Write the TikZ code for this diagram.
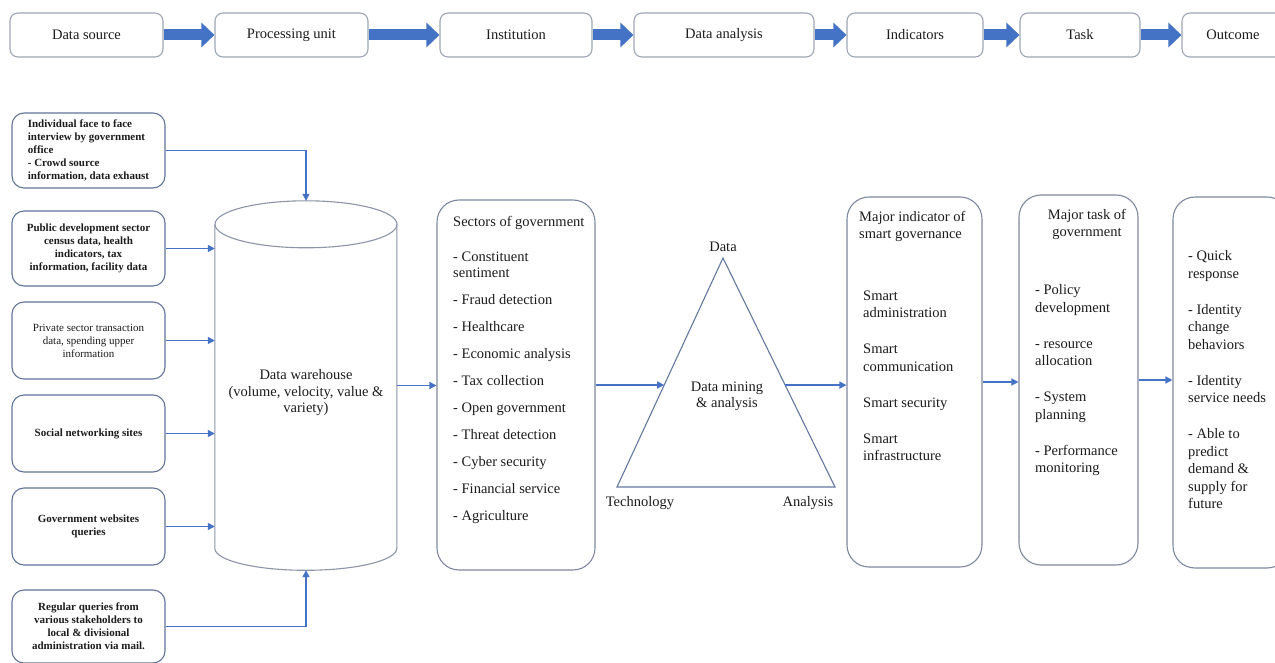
\documentclass[tikz,border=0pt]{standalone}
\usepackage{fontspec}
\setmainfont{Liberation Serif}
\usetikzlibrary{arrows.meta,positioning,calc}
\definecolor{FlowBlue}{RGB}{68,114,196}
\definecolor{StageEdge}{RGB}{158,166,182}
\definecolor{SourceEdge}{RGB}{98,116,152}
\definecolor{ColEdge}{RGB}{126,136,160}
\definecolor{CylEdge}{RGB}{140,148,168}
\definecolor{TriEdge}{RGB}{100,120,160}
\definecolor{Ink}{RGB}{28,28,28}
\tikzset{
  stagebox/.style={draw=StageEdge,rounded corners=8pt,line width=1.1pt,fill=white,
    minimum height=44pt,text=Ink,font=\fontsize{14.5}{17}\selectfont},
  srcbox/.style={draw=SourceEdge,rounded corners=12pt,line width=1.1pt,
    minimum width=153pt,align=center,text=Ink,font=\bfseries\fontsize{11}{13}\selectfont},
  colbox/.style={draw=ColEdge,rounded corners=22pt,line width=1.1pt},
  coltext/.style={anchor=north west,inner sep=0pt,align=left,text=Ink,
    font=\fontsize{14.5}{17.5}\selectfont},
  trilabel/.style={inner sep=0pt,text=Ink,font=\fontsize{14.5}{16.5}\selectfont},
  cylline/.style={draw=CylEdge,line width=1.1pt},
  link/.style={-{Triangle[length=7pt,width=7pt]},FlowBlue,line width=1.4pt},
  bigarrow/.style={-{Triangle[length=13pt,width=24pt]},FlowBlue,line width=11pt}
}
\begin{document}
\begin{tikzpicture}[x=1pt,y=-1pt]
  \useasboundingbox (0,0) rectangle (1275,663);
  \fill[white] (0,0) rectangle (1275,663);

  \node[stagebox,minimum width=153pt] (sSource) at (86.5,35) {Data source};
  \node[stagebox,minimum width=153pt] (sProc) at (291.5,35) {Processing unit};
  \node[stagebox,minimum width=152pt] (sInst) at (516,35) {Institution};
  \node[stagebox,minimum width=180pt] (sAnalysis) at (724,35) {Data analysis};
  \node[stagebox,minimum width=136pt] (sIndic) at (915,35) {Indicators};
  \node[stagebox,minimum width=120pt] (sTask) at (1080,35) {Task};
  \node[stagebox,minimum width=102pt] (sOutcome) at (1233,35) {Outcome};
  \foreach \a/\b in {sSource/sProc,sProc/sInst,sInst/sAnalysis,sAnalysis/sIndic,sIndic/sTask,sTask/sOutcome}
    \draw[bigarrow] (\a.east) -- (\b.west);

  \node[srcbox,minimum height=75pt,align=left] (src1) at (88.5,150.5)
    {Individual face to face\\interview by government\\office\\- Crowd source\\information, data exhaust};
  \node[srcbox,minimum height=75pt] (src2) at (88.5,248.5)
    {Public development sector\\census data, health\\indicators, tax\\information, facility data};
  \node[srcbox,minimum height=77pt,font=\fontsize{11}{13}\selectfont] (src3) at (88.5,340.5)
    {Private sector transaction\\data, spending upper\\information};
  \node[srcbox,minimum height=77pt] (src4) at (88.5,433.5) {Social networking sites};
  \node[srcbox,minimum height=77pt] (src5) at (88.5,526.5) {Government websites\\queries};
  \node[srcbox,minimum height=73pt] (src6) at (88.5,626.5)
    {Regular queries from\\various stakeholders to\\local \& divisional\\administration via mail.};

  \node[minimum width=182pt,minimum height=369pt,inner sep=0pt,
    label={[trilabel,align=center,yshift=-7.5pt]center:{Data warehouse\\(volume, velocity, value \&\\variety)}}]
    (dw) at (306,385.5) {};
  \draw[cylline] (dw.north west) ++(0,23.5) -- ++(0,324)
    arc[start angle=180,end angle=0,x radius=91,y radius=22] -- ++(0,-324);
  \draw[cylline] (dw.north) ++(0,23.5) ellipse[x radius=91,y radius=23.5];

  \draw[link] (src1.east) -| (dw.north);
  \foreach \i in {2,...,5}
    \draw[link] (src\i.east) -- (src\i.east -| dw.west);
  \draw[link] (src6.east) -| (dw.south);

  \node[colbox,minimum width=158pt,minimum height=370pt] (sect) at (516,385) {};
  \node[coltext,font=\fontsize{14.5}{16}\selectfont] (sectText) at (453,215.6)
    {Sectors of government\\[19pt]- Constituent\\sentiment\\[11pt]- Fraud detection\\[11pt]- Healthcare\\[11pt]%
     - Economic analysis\\[11pt]- Tax collection\\[11pt]- Open government\\[11pt]- Threat detection\\[11pt]%
     - Cyber security\\[11pt]- Financial service\\[11pt]- Agriculture};
  \draw[link] (dw.east) -- (dw.east -| sect.west);

  \coordinate (triTop) at (723,258);
  \coordinate (triLeft) at (617,487);
  \coordinate (triRight) at (835,487);
  \draw[draw=TriEdge,line width=1.1pt] (triTop) -- (triRight) -- (triLeft) -- cycle;
  \coordinate (triL) at ($(triLeft)!0.445!(triTop)$);
  \coordinate (triR) at ($(triRight)!0.445!(triTop)$);
  \node[trilabel,anchor=base] (lblData) at (723,251.5) {Data};
  \node[trilabel,anchor=base] (lblTech) at (640,506.5) {Technology};
  \node[trilabel,anchor=base] (lblAna) at (808,506.5) {Analysis};
  \node[trilabel,align=center] (lblMine) at (727,396.5) {Data mining\\\& analysis};
  \draw[link] (sect.east) -- (sect.east -| triL);

  \node[colbox,minimum width=135pt,minimum height=370pt] (ind) at (914.5,382) {};
  \node[coltext] (indTitle) at (859,210.6) {Major indicator of\\smart governance};
  \node[coltext] (indText) at (863,290.6)
    {Smart\\administration\\[18.5pt]Smart\\communication\\[18.5pt]Smart security\\[18.5pt]Smart\\infrastructure};
  \draw[link] (triR) -- (triR -| ind.west);

  \node[colbox,minimum width=119pt,minimum height=370pt] (tsk) at (1078.5,380) {};
  \node[coltext,anchor=north,align=center] (tskTitle) at (1087,208.6) {Major task of\\government};
  \node[coltext] (tskText) at (1035,284.6)
    {- Policy\\development\\[18.5pt]- resource\\allocation\\[18.5pt]- System\\planning\\[18.5pt]- Performance\\monitoring};
  \draw[link] (ind.east) -- (ind.east -| tsk.west);

  \node[colbox,minimum width=116pt,minimum height=371pt] (outc) at (1231,382.5) {};
  \node[coltext] (outcText) at (1188,250.6)
    {- Quick\\response\\[18.5pt]- Identity\\change\\behaviors\\[18.5pt]- Identity\\service needs\\[18.5pt]%
     - Able to\\predict\\demand \&\\supply for\\future};
  \draw[link] (tsk.east) -- (tsk.east -| outc.west);
\end{tikzpicture}
\end{document}
